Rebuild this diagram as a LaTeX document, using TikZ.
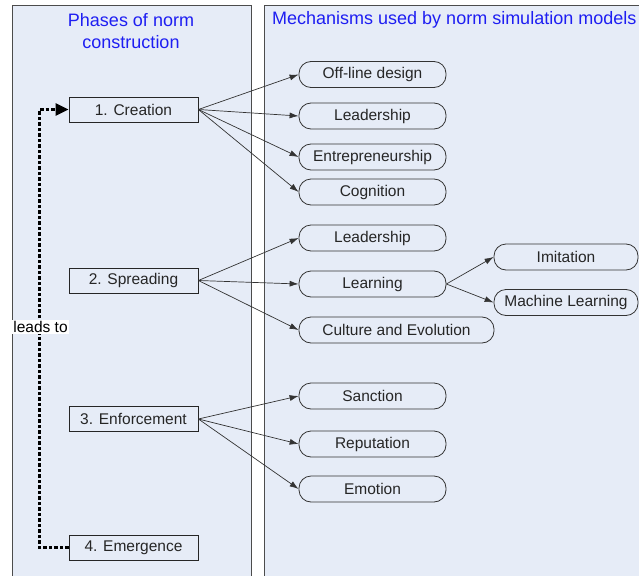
\documentclass[tikz,border=0pt]{standalone}
\usepackage{fontspec}
\setmainfont{Liberation Sans}
\usetikzlibrary{arrows.meta}
\definecolor{panelbg}{HTML}{E6ECF7}
\definecolor{headblue}{HTML}{1E1EF2}
\definecolor{boxtext}{HTML}{262626}
\begin{document}
\begin{tikzpicture}[x=1pt,y=-1pt,
  phase/.style={draw=black!85, fill=panelbg, minimum width=129pt, minimum height=25pt, inner sep=0pt, line width=0.8pt, font=\fontsize{15.5}{18}\selectfont, text=boxtext},
  mech/.style={draw=black!80, fill=panelbg, rounded corners=12pt, minimum width=147pt, minimum height=26pt, inner sep=0pt, line width=0.8pt, font=\fontsize{15.5}{18}\selectfont, text=boxtext},
  arr/.style={-{Latex[length=9pt,width=6pt]}, draw=black!80, line width=0.7pt},
  panel/.style={fill=panelbg, draw=black!70, line width=0.9pt},
  heading/.style={text=headblue, font=\fontsize{18}{22}\selectfont, inner sep=0pt, align=center}
]
\useasboundingbox (0,0) rectangle (639,575);
\begin{scope}
  \clip (0,0) rectangle (639,575);
  \fill[white] (0,0) rectangle (639,575);
  \draw[panel] (12,5) rectangle (251,600);
  \draw[panel] (264,5) rectangle (680,600);
\end{scope}

\node[heading] (h1) at (131,31) {Phases of norm\\construction};
\node[heading, anchor=west] (h2) at (272,20) {Mechanisms used by norm simulation models};

% phases
\node[phase] (p1) at (133.5,109.5) {1. Creation};
\node[phase] (p2) at (133.5,280.5) {2. Spreading};
\node[phase] (p3) at (133.5,419) {3. Enforcement};
\node[phase] (p4) at (133.5,547.5) {4. Emergence};

% mechanisms
\node[mech] (m1) at (372.5,74.5) {Off-line design};
\node[mech] (m2) at (372.5,116) {Leadership};
\node[mech] (m3) at (372.5,157) {Entrepreneurship};
\node[mech] (m4) at (372.5,192) {Cognition};
\node[mech] (m5) at (372.5,238) {Leadership};
\node[mech] (m6) at (372.5,284) {Learning};
\node[mech, minimum width=195pt] (m7) at (396.5,330) {Culture and Evolution};
\node[mech, minimum width=144pt] (m8) at (566,257) {Imitation};
\node[mech, minimum width=144pt] (m9) at (566,302.5) {Machine Learning};
\node[mech] (m10) at (372.5,396) {Sanction};
\node[mech] (m11) at (372.5,444) {Reputation};
\node[mech] (m12) at (372.5,489) {Emotion};

% arrows
\foreach \t in {m1,m2,m3,m4} \draw[arr] (p1.east) -- (\t.west);
\foreach \t in {m5,m6,m7} \draw[arr] (p2.east) -- (\t.west);
\foreach \t in {m8,m9} \draw[arr] (m6.east) -- (\t.west);
\foreach \t in {m10,m11,m12} \draw[arr] (p3.east) -- (\t.west);

% leads to
\draw[line width=2.8pt, dash pattern=on 3.5pt off 2pt, -{Triangle[length=13pt,width=12pt]}]
  (p4.west) -- ++(-29,0) |- (p1.west);
\node[fill=white, inner sep=1.5pt, font=\fontsize{15.5}{18}\selectfont, text=black] (lt) at (40.5,327) {leads to};
\end{tikzpicture}
\end{document}
